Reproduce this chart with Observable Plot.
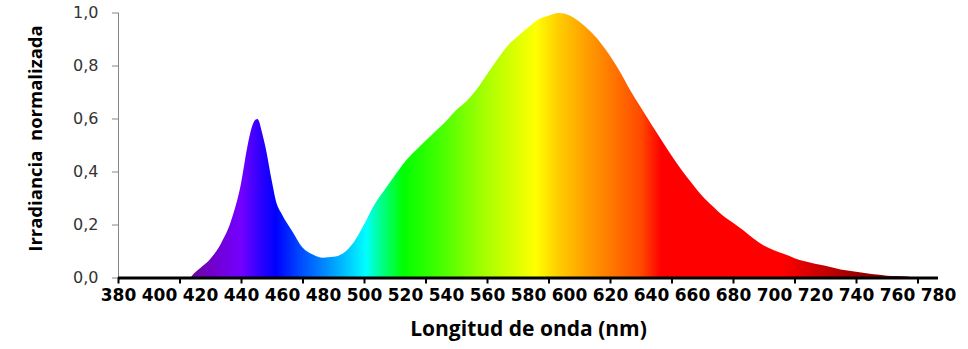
<!DOCTYPE html>
<html>
<head>
<meta charset="utf-8">
<script src="https://cdn.jsdelivr.net/npm/d3@7"></script>
<script src="https://cdn.jsdelivr.net/npm/@observablehq/plot@0.6"></script>
<style>
  html, body { margin: 0; padding: 0; background: #fff; overflow: hidden; }
</style>
</head>
<body>
<div id="chart"></div>
<script>
// Wavelength (nm) and normalized irradiance
const wavelengths = [380,390,400,410,415,417,420,425,430,435,440,443,445,447,448,449,450,452,455,457,460,465,470,475,480,485,490,495,500,505,510,515,520,525,530,535,540,545,550,555,560,565,570,575,580,585,590,595,600,605,610,615,620,625,630,635,640,645,650,655,660,665,670,675,680,685,690,695,700,705,710,715,720,725,730,735,740,745,750,755,760,765,768,770,780];
const irradiance = [0,0,0,0,0,0.015,0.035,0.07,0.125,0.21,0.355,0.49,0.56,0.595,0.598,0.585,0.555,0.49,0.365,0.29,0.238,0.175,0.113,0.087,0.075,0.078,0.092,0.133,0.2,0.274,0.33,0.385,0.437,0.478,0.516,0.553,0.59,0.632,0.665,0.71,0.767,0.823,0.874,0.91,0.943,0.974,0.988,0.998,0.99,0.966,0.932,0.89,0.837,0.775,0.705,0.642,0.58,0.52,0.46,0.405,0.355,0.308,0.27,0.234,0.207,0.178,0.147,0.121,0.103,0.089,0.073,0.061,0.052,0.044,0.035,0.027,0.022,0.016,0.011,0.007,0.006,0.004,0,0,0];

// Axis ticks
const xLabelTicks = [380,400,420,440,460,480,500,520,540,560,580,600,620,640,660,680,700,720,740,760,780];
const xTickMarks = [380,410,440,470,500,530,560,590,620,650,680,710,740,770];
const yTicks = [0,0.2,0.4,0.6,0.8,1.0];

// Spectral colour stops (wavelength, colour) read from the fill
const stopWavelengths = [380,416,425,440,450,457,470,482,492,501,508,519,537,560,575,584,595,608,625,635,645,704,722,742,761,780];
const stopColors = ["#5a0a8a","#6a0a9a","#7000c8","#7400ff","#2a00ff","#0000ff","#0050ff","#0090ff","#00c8ff","#00ffff","#00ff90","#00ff00","#44ff00","#aaff00","#e0ff00","#ffff00","#ffcc00","#ffa000","#ff6a00","#ff4a00","#ff0000","#ff0000","#cc0000","#990000","#800000","#700000"];

const data = wavelengths.map((w, i) => ({nm: w, v: irradiance[i]}));

const W = 968, H = 349;
const chart = Plot.plot({
  width: W,
  height: H,
  marginLeft: 118,
  marginRight: 30,
  marginTop: 12.5,
  marginBottom: 71.5,
  style: {background: "#fff", overflow: "visible"},
  x: {domain: [380, 780], axis: null},
  y: {domain: [0, 1], axis: null},
  marks: [
    Plot.areaY(data, {x: "nm", y: "v", fill: "url(#spectrum)", curve: "monotone-x"}),
    Plot.ruleX([380], {stroke: "#868686", strokeWidth: 1}),
    Plot.axisY({
      ticks: yTicks, tickSize: 6, tickPadding: 14,
      tickFormat: d => d.toFixed(1).replace(".", ","),
      stroke: "#868686", fill: "#333333",
      fontSize: 16, fontFamily: "DejaVu Sans", label: null
    }),
    Plot.ruleY([0], {stroke: "#000", strokeWidth: 3}),
    Plot.axisX({
      ticks: xTickMarks, tickSize: 6, text: null, stroke: "#000", strokeWidth: 2, label: null
    }),
    Plot.axisX({
      ticks: xLabelTicks, tickSize: 0, tickPadding: 10.5,
      tickFormat: d => String(d), fill: "#000",
      fontSize: 17, fontFamily: "DejaVu Sans", fontWeight: "bold", label: null
    }),
    Plot.text(["Longitud de onda (nm)"], {
      frameAnchor: "bottom", lineAnchor: "bottom", dy: 57.5,
      fontSize: 21, fontFamily: "Open Sans", fontWeight: "bold", fill: "#000"
    }),
    Plot.text(["Irradiancia  normalizada"], {
      frameAnchor: "left", textAnchor: "middle", lineAnchor: "bottom", rotate: -90, dx: -76.3, dy: -7,
      fontSize: 18.5, fontFamily: "Open Sans", fontWeight: "bold", fill: "#000"
    })
  ]
});

// Spectral gradient, positioned with the chart's x scale
const xs = chart.scale("x");
const x0 = xs.apply(380), x1 = xs.apply(780);
const ns = "http://www.w3.org/2000/svg";
const svg = chart.tagName.toLowerCase() === "svg" ? chart : chart.querySelector("svg");
const defs = document.createElementNS(ns, "defs");
const grad = document.createElementNS(ns, "linearGradient");
grad.setAttribute("id", "spectrum");
grad.setAttribute("gradientUnits", "userSpaceOnUse");
grad.setAttribute("x1", x0); grad.setAttribute("x2", x1);
grad.setAttribute("y1", 0); grad.setAttribute("y2", 0);
stopWavelengths.forEach((w, i) => {
  const s = document.createElementNS(ns, "stop");
  s.setAttribute("offset", ((xs.apply(w) - x0) / (x1 - x0)).toFixed(4));
  s.setAttribute("stop-color", stopColors[i]);
  grad.appendChild(s);
});
defs.appendChild(grad);
svg.insertBefore(defs, svg.firstChild);
svg.querySelectorAll("text").forEach(t => t.style.fontVariant = "normal");

document.getElementById("chart").appendChild(chart);
</script>
</body>
</html>
